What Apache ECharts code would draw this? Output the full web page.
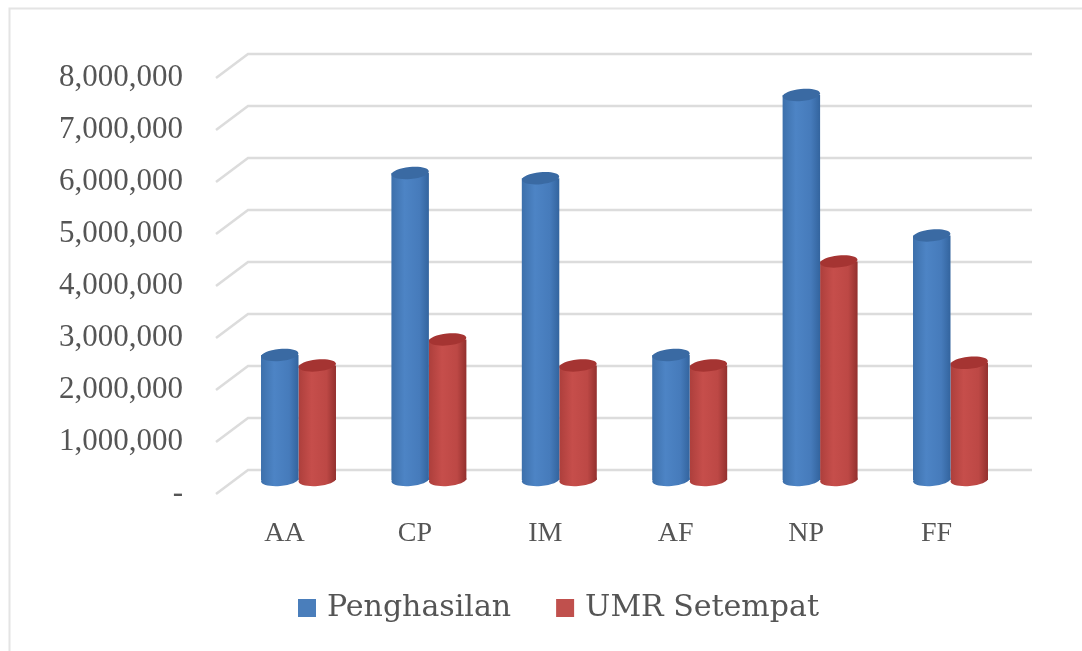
<!DOCTYPE html>
<html><head><meta charset="utf-8">
<style>html,body{margin:0;padding:0;background:#fff}#c{width:1082px;height:651px}</style>
<script src="https://cdn.jsdelivr.net/npm/echarts@6/dist/echarts.min.js"></script>
</head><body><div id="c"></div>
<script>
const categories = ['AA','CP','IM','AF','NP','FF'];
const penghasilan = [2500000,6000000,5900000,2500000,7500000,4800000];
const umrSetempat = [2300000,2800000,2300000,2300000,4300000,2350000];
const yTicks = [0,1000000,2000000,3000000,4000000,5000000,6000000,7000000,8000000];

const FONT = '"Liberation Serif"';
const LEGEND_FONT = '"DejaVu Serif"';
const TEXT = '#555555';

function cylinder(side, stops, topColor) {
  return function (params, api) {
    const i = api.value(0);
    const top = api.coord([i, api.value(1)]);
    const base = api.coord([i, 0]);
    const band = api.size([1, 0])[0];
    const w = band * 0.2875;
    const cx = top[0] + side * w / 2;
    const rx = w / 2, ry = 6;
    const grad = new echarts.graphic.LinearGradient(0, 0, 1, 0, stops);
    const by = base[1] - 5;
    return { type: 'group', children: [
      { type: 'ellipse', shape: { cx: cx, cy: by, rx: rx, ry: ry }, rotation: 0.08,
        originX: cx, originY: by, style: { fill: grad } },
      { type: 'rect', shape: { x: cx - rx, y: top[1], width: w, height: by - top[1] }, style: { fill: grad } },
      { type: 'ellipse', shape: { cx: cx, cy: top[1], rx: rx, ry: ry }, rotation: 0.1,
        originX: cx, originY: top[1], style: { fill: topColor } }
    ]};
  };
}

function wall(params, api) {
  const v = api.value(0);
  const a = api.coord([0, v]);
  const b = api.coord([1, v]);
  return { type: 'polyline',
    shape: { points: [[a[0], a[1]], [a[0] + 32, a[1] - 24], [b[0], a[1] - 24]] },
    style: { fill: null, stroke: '#dcdcdc', lineWidth: 2.5 } };
}

const chart = echarts.init(document.getElementById('c'), null, { renderer: 'canvas' });
chart.setOption({
  animation: false,
  backgroundColor: '#fff',
  graphic: [{ type: 'polyline', silent: true, z: 0,
    shape: { points: [[9.5, 660], [9.5, 8.5], [1090, 8.5]] },
    style: { fill: null, stroke: '#e4e4e4', lineWidth: 2 } }],
  grid: [
    { left: 233.3, width: 782.4, top: 69, bottom: 166 },
    { left: 216, right: 50, top: 78, bottom: 157 }
  ],
  xAxis: [
    { gridIndex: 0, type: 'category', data: categories,
      axisLine: { show: false }, axisTick: { show: false },
      axisLabel: { color: TEXT, fontFamily: FONT, fontSize: 28, margin: 35, padding: [0, 28, 0, 0] } },
    { gridIndex: 1, type: 'value', min: 0, max: 1, show: false }
  ],
  yAxis: [
    { gridIndex: 0, type: 'value', min: 0, max: 8000000, interval: 1000000, show: false },
    { gridIndex: 1, type: 'value', min: 0, max: 8000000, interval: 1000000,
      axisLine: { show: false }, axisTick: { show: false }, splitLine: { show: false },
      axisLabel: { color: TEXT, fontFamily: FONT, fontSize: 31, margin: 33, padding: [3, 0, 0, 0],
        formatter: v => v === 0 ? '-' : v.toLocaleString('en-US') } }
  ],
  legend: {
    left: 293, top: 588, itemWidth: 18, itemHeight: 18, itemGap: 45, icon: 'rect',
    data: ['Penghasilan', 'UMR Setempat'],
    textStyle: { color: TEXT, fontFamily: LEGEND_FONT, fontSize: 30, padding: [0, 0, 0, 6] }
  },
  series: [
    { type: 'custom', name: 'wall', xAxisIndex: 1, yAxisIndex: 1, z: 1, silent: true,
      data: yTicks.map(v => [v]), encode: { y: 0 }, renderItem: wall },
    { type: 'custom', name: 'UMR Setempat', xAxisIndex: 0, yAxisIndex: 0, z: 2,
      itemStyle: { color: '#c0504d' },
      data: umrSetempat.map((v, i) => [i, v]), encode: { x: 0, y: 1 },
      renderItem: cylinder(1, [
        { offset: 0, color: '#ad3f3c' }, { offset: 0.35, color: '#c64e4b' },
        { offset: 0.75, color: '#bd4845' }, { offset: 1, color: '#93302e' }], '#a53432') },
    { type: 'custom', name: 'Penghasilan', xAxisIndex: 0, yAxisIndex: 0, z: 3,
      itemStyle: { color: '#4a7ebb' },
      data: penghasilan.map((v, i) => [i, v]), encode: { x: 0, y: 1 },
      renderItem: cylinder(-1, [
        { offset: 0, color: '#3d70ab' }, { offset: 0.35, color: '#4d84c5' },
        { offset: 0.75, color: '#467bbb' }, { offset: 1, color: '#33649e' }], '#3a6aa3') }
  ]
});
</script></body></html>
